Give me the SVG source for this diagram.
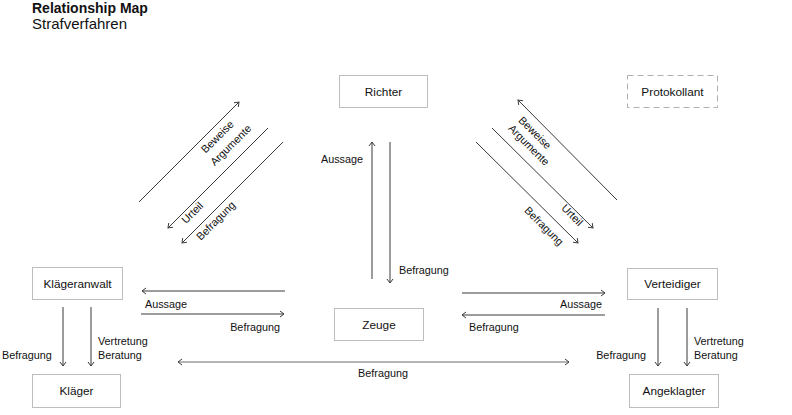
<svg xmlns="http://www.w3.org/2000/svg" width="792" height="415" viewBox="0 0 792 415">
<style>
text{font-family:"Liberation Sans",Arial,sans-serif;fill:#111}
.title{font-size:14px;font-weight:bold}
.sub{font-size:15px}
.box{fill:#fff;stroke:#bdbdbd;stroke-width:1}
.dash{fill:#fff;stroke:#b0b0b0;stroke-width:1;stroke-dasharray:6 4}
.nl{font-size:11.8px;text-anchor:middle}
.el{font-size:10.8px}
.e{stroke:#3a3a3a;stroke-width:1;fill:none}
.g{stroke:#6a6a6a}
</style>
<defs>
<marker id="ah" markerUnits="userSpaceOnUse" markerWidth="10" markerHeight="10" viewBox="-6 -5 8 10" refX="0" refY="0" orient="auto-start-reverse">
<path d="M-4,-3 L0,0 L-4,3" fill="none" stroke="#3a3a3a" stroke-width="1"/>
</marker>
</defs>
<rect width="792" height="415" fill="#fff"/>
<text class="title" x="32" y="12.5">Relationship Map</text>
<text class="sub" x="32" y="28.5">Strafverfahren</text>

<g id="connectors">
<!-- Richter - Zeuge -->
<line class="e" x1="372" y1="279" x2="372" y2="142" marker-end="url(#ah)"/>
<line class="e" x1="390" y1="142" x2="390" y2="283" marker-end="url(#ah)"/>
<text class="el" x="363" y="163" text-anchor="end">Aussage</text>
<text class="el" x="399" y="274">Befragung</text>
<!-- Klägeranwalt - Zeuge -->
<line class="e" x1="285" y1="291" x2="142" y2="291" marker-end="url(#ah)"/>
<line class="e" x1="141" y1="314" x2="284" y2="314" marker-end="url(#ah)"/>
<text class="el" x="145" y="308">Aussage</text>
<text class="el" x="280" y="331" text-anchor="end">Befragung</text>
<!-- Verteidiger - Zeuge -->
<line class="e" x1="462" y1="293" x2="605" y2="293" marker-end="url(#ah)"/>
<line class="e" x1="605" y1="315" x2="462" y2="315" marker-end="url(#ah)"/>
<text class="el" x="602" y="308" text-anchor="end">Aussage</text>
<text class="el" x="469" y="331">Befragung</text>
<!-- Kläger - Angeklagter -->
<line class="e g" x1="178" y1="362" x2="569" y2="362" marker-start="url(#ah)" marker-end="url(#ah)"/>
<text class="el" x="383" y="377" text-anchor="middle">Befragung</text>
<!-- Klägeranwalt - Kläger -->
<line class="e" x1="63" y1="307" x2="63" y2="366" marker-end="url(#ah)"/>
<line class="e" x1="91" y1="307" x2="91" y2="366" marker-end="url(#ah)"/>
<text class="el" x="2" y="359">Befragung</text>
<text class="el" x="98" y="345">Vertretung</text>
<text class="el" x="98" y="358.5">Beratung</text>
<!-- Verteidiger - Angeklagter -->
<line class="e" x1="658" y1="308" x2="658" y2="366" marker-end="url(#ah)"/>
<line class="e" x1="687" y1="308" x2="687" y2="366" marker-end="url(#ah)"/>
<text class="el" x="646" y="359" text-anchor="end">Befragung</text>
<text class="el" x="694" y="345">Vertretung</text>
<text class="el" x="694" y="358.5">Beratung</text>
<!-- Klägeranwalt - Richter (diagonal) -->
<line class="e" x1="139" y1="202" x2="239" y2="102" marker-end="url(#ah)"/>
<line class="e" x1="268" y1="128" x2="168" y2="228" marker-end="url(#ah)"/>
<line class="e" x1="283" y1="142" x2="182" y2="243" marker-end="url(#ah)"/>
<g class="el" text-anchor="middle">
<text transform="translate(217.3,136.7) rotate(-45)" y="3.8">Beweise</text>
<text transform="translate(230.7,145) rotate(-45)" y="3.8">Argumente</text>
<text transform="translate(192.3,212.7) rotate(-45)" y="3.8">Urteil</text>
<text transform="translate(215.7,220.7) rotate(-45)" y="3.8">Befragung</text>
</g>
<!-- Verteidiger - Richter (diagonal) -->
<line class="e" x1="617" y1="200" x2="518" y2="100" marker-end="url(#ah)"/>
<line class="e" x1="492" y1="128" x2="593" y2="228" marker-end="url(#ah)"/>
<line class="e" x1="476" y1="142" x2="578" y2="243" marker-end="url(#ah)"/>
<g class="el" text-anchor="middle">
<text transform="translate(535,132.7) rotate(45)" y="3.8">Beweise</text>
<text transform="translate(529,145) rotate(45)" y="3.8">Argumente</text>
<text transform="translate(572.3,215) rotate(45)" y="3.8">Urteil</text>
<text transform="translate(544,226) rotate(45)" y="3.8">Befragung</text>
</g>
</g>

<g id="richter"><rect class="box" x="339.5" y="75.5" width="88" height="32"/><text class="nl" x="383.5" y="95.5">Richter</text></g>
<g id="protokollant"><rect class="dash" x="627.5" y="75.5" width="90" height="32"/><text class="nl" x="672.5" y="95.5">Protokollant</text></g>
<g id="klaegeranwalt"><rect class="box" x="32.5" y="267.5" width="90" height="32"/><text class="nl" x="77.5" y="287.5">Klägeranwalt</text></g>
<g id="zeuge"><rect class="box" x="334.5" y="308.5" width="89" height="32"/><text class="nl" x="379" y="328.5">Zeuge</text></g>
<g id="verteidiger"><rect class="box" x="627.5" y="268.5" width="90" height="31"/><text class="nl" x="672.5" y="288">Verteidiger</text></g>
<g id="klaeger"><rect class="box" x="32.5" y="374.5" width="88" height="33"/><text class="nl" x="76.5" y="395">Kläger</text></g>
<g id="angeklagter"><rect class="box" x="629.5" y="374.5" width="89" height="33"/><text class="nl" x="674" y="395">Angeklagter</text></g>
</svg>
